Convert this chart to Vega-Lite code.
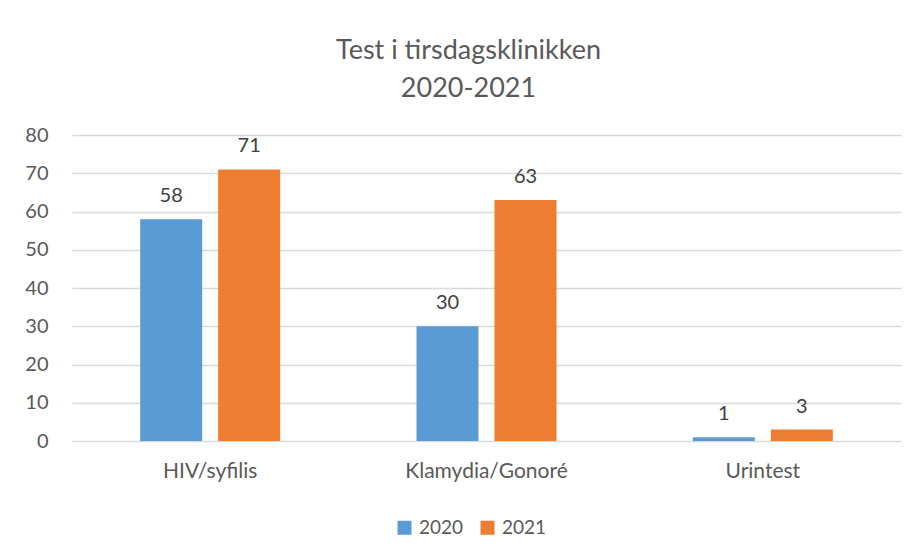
{
  "$schema": "https://vega.github.io/schema/vega-lite/v6.json",
  "autosize": {"type": "none"},
  "width": 829,
  "height": 306,
  "padding": {"left": 72, "top": 135, "right": 20, "bottom": 116},
  "background": "white",
  "title": {
    "text": ["Test i tirsdagsklinikken", "2020-2021"],
    "anchor": "middle",
    "dx": -18,
    "offset": 22,
    "font": "Lato",
    "fontSize": 27,
    "fontWeight": "normal",
    "color": "#595959",
    "lineHeight": 38
  },
  "data": {
    "values": [
      {"kategori": "HIV/syfilis", "år": "2020", "antall": 58},
      {"kategori": "HIV/syfilis", "år": "2021", "antall": 71},
      {"kategori": "Klamydia/Gonoré", "år": "2020", "antall": 30},
      {"kategori": "Klamydia/Gonoré", "år": "2021", "antall": 63},
      {"kategori": "Urintest", "år": "2020", "antall": 1},
      {"kategori": "Urintest", "år": "2021", "antall": 3}
    ]
  },
  "encoding": {
    "x": {
      "field": "kategori",
      "type": "nominal",
      "sort": null,
      "scale": {"paddingInner": 0, "paddingOuter": 0},
      "axis": {
        "title": null,
        "labelAngle": 0,
        "domain": false,
        "ticks": false,
        "labelPadding": 19,
        "labelFont": "Lato",
        "labelFontSize": 21,
        "labelColor": "#595959"
      }
    },
    "xOffset": {
      "field": "år",
      "type": "nominal",
      "scale": {"paddingInner": 0.205, "paddingOuter": 0.874}
    },
    "y": {
      "field": "antall",
      "type": "quantitative",
      "scale": {"domain": [0, 80]},
      "axis": {
        "title": null,
        "values": [0, 10, 20, 30, 40, 50, 60, 70, 80],
        "domain": false,
        "ticks": false,
        "labelPadding": 24,
        "labelFont": "Lato",
        "labelFontSize": 20,
        "labelColor": "#595959",
        "gridColor": "#d9d9d9",
        "gridWidth": 1.3
      }
    }
  },
  "layer": [
    {
      "mark": {"type": "bar"},
      "encoding": {
        "color": {
          "field": "år",
          "type": "nominal",
          "scale": {"domain": ["2020", "2021"], "range": ["#5B9BD5", "#ED7D31"]},
          "legend": {
            "title": null,
            "orient": "none",
            "direction": "horizontal",
            "legendX": 323,
            "legendY": 383,
            "symbolType": "square",
            "symbolSize": 196,
            "symbolStrokeWidth": 0,
            "labelFont": "Lato",
            "labelFontSize": 19,
            "labelColor": "#595959",
            "columnPadding": 14,
            "labelOffset": 5
          }
        }
      }
    },
    {
      "mark": {
        "type": "text",
        "baseline": "bottom",
        "dy": -13,
        "font": "Lato",
        "fontSize": 20,
        "color": "#404040"
      },
      "encoding": {"text": {"field": "antall", "type": "quantitative"}}
    }
  ],
  "config": {"view": {"stroke": null}}
}
